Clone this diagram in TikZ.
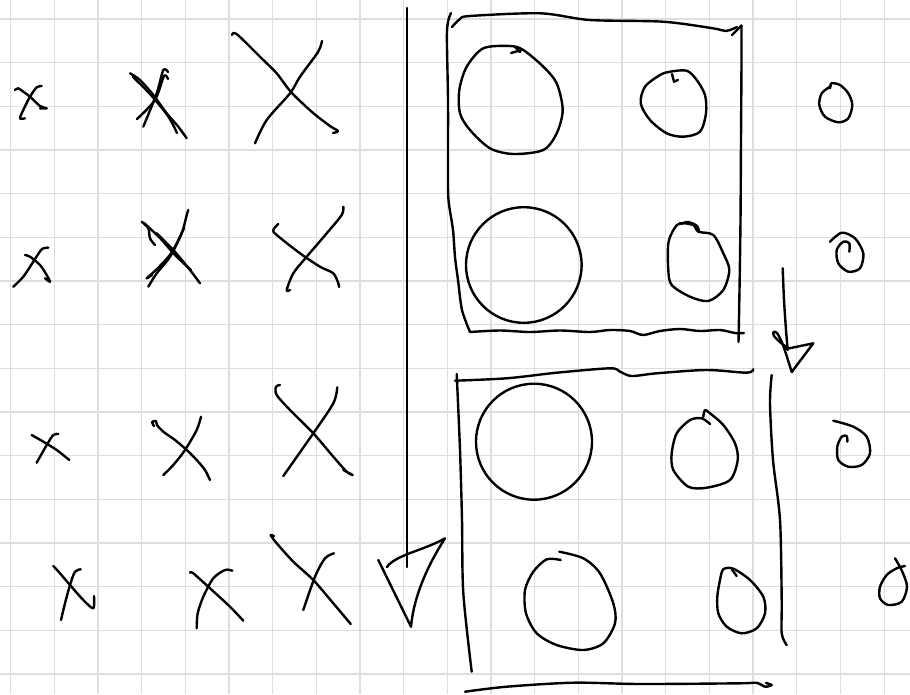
\documentclass[tikz,border=0pt]{standalone}
\definecolor{gridgray}{RGB}{222,222,222}
\begin{document}
\begin{tikzpicture}[x=1pt,y=-1pt,
  ink/.style={line width=2.4pt, line cap=round, line join=round, black},
  gridline/.style={line width=1.2pt, color=gridgray}]
\useasboundingbox (0,0) rectangle (910,694);
\fill[white] (0,0) rectangle (910,694);
\foreach \i in {0,...,20} \draw[gridline] ({10.7+43.67*\i},0) -- ({10.7+43.67*\i},694);
\foreach \j in {0,...,15} \draw[gridline] (0,{19+43.67*\j}) -- (910,{19+43.67*\j});

% ---- X marks, row 1
\draw[ink] plot[smooth] coordinates {(15,90) (18.3,88.3) (23.3,91.7) (30,96.7) (40,106) (46.7,108.3) (40,108.3)};
\draw[ink] plot[smooth] coordinates {(41.7,86) (36.7,87.3) (30,96.7) (23.3,110) (20,118.3) (25,118.3)};
\draw[ink] plot[smooth] coordinates {(130,73.3) (140,80) (153.3,95) (166.7,113.3) (178.3,126.7) (186.7,138.3)};
\draw[ink] plot[smooth] coordinates {(133,77) (150,94) (168,116) (177,133)};
\draw[ink] plot[smooth] coordinates {(168,72) (163.3,70) (156.7,93.3) (143.3,126.7)};
\draw[ink] plot[smooth] coordinates {(168,79) (164,76) (155,100) (137,119)};
\draw[ink] plot[smooth] coordinates {(232,35) (237,34.3) (263.3,60) (276.7,73.3) (291,92) (312,112) (330,126) (338,131) (333,133)};
\draw[ink] plot[smooth] coordinates {(322,41) (318,52) (300,76.7) (290,93.3) (266.7,120) (255,143.3)};

% ---- row 2
\draw[ink] plot[smooth] coordinates {(25,255) (30,256.7) (40,265) (46.7,275) (50,281.7) (45,278.3)};
\draw[ink] plot[smooth] coordinates {(48.3,247.7) (41.7,249.3) (33.3,261.7) (23.3,276.7) (13.3,286.7)};
\draw[ink] plot[smooth] coordinates {(141.7,221.7) (148.3,228.3) (150,238.3) (155,245)};
\draw[ink] plot[smooth] coordinates {(156.7,233.3) (173.3,250) (190,270) (200,283.3)};
\draw[ink] plot[smooth] coordinates {(144,223) (160,238) (175,255) (191,270)};
\draw[ink] plot[smooth] coordinates {(188.3,210) (186.7,215) (181.7,233.3) (170,256.7) (156.7,273.3) (148.3,286.7)};
\draw[ink] plot[smooth] coordinates {(184,228) (172,252) (158,268) (146.7,278.3) (152,275)};
\draw[ink] plot[smooth] coordinates {(278.3,224) (273.3,230) (276.7,235) (300,253.3) (320,266.7) (333.3,273.3) (338.3,283.3) (339,287)};
\draw[ink] plot[smooth] coordinates {(343.3,206.7) (341.7,215) (326.7,233.3) (306.7,256.7) (293.3,273.3) (286.7,290) (290,290)};

% ---- row 3
\draw[ink] plot[smooth] coordinates {(31.7,435) (43.3,441.7) (56.7,450) (69.3,460)};
\draw[ink] plot[smooth] coordinates {(58.3,434) (53.3,435) (46.7,445) (36.7,462.7)};
\draw[ink] plot[smooth] coordinates {(154,426) (152,422) (156,421) (157,425) (163.3,431.7) (175,440) (186.7,450) (196.7,460) (205,470) (210,480) (206.7,473.3)};
\draw[ink] plot[smooth] coordinates {(201,416.7) (196.7,430) (185,450) (173.3,465) (163.3,475)};
\draw[ink] plot[smooth] coordinates {(280,385) (276,386.7) (276.7,395) (290,410) (313.3,433.3) (333.3,456.7) (346.7,471.7) (352.7,475) (343.3,470)};
\draw[ink] plot[smooth] coordinates {(337.3,387.3) (333.3,403.3) (313.3,433.3) (283.3,476)};

% ---- row 4
\draw[ink] plot[smooth] coordinates {(53.3,566) (60,573.3) (70,585) (83.3,600) (93.3,608.3) (94,596)};
\draw[ink] plot[smooth] coordinates {(80.7,569.3) (75,571.7) (70,585) (65,603.3) (61,620)};
\draw[ink] plot[smooth] coordinates {(190,572.7) (193.3,573.3) (210,588.3) (230,606.7) (243.3,620.7)};
\draw[ink] plot[smooth] coordinates {(232.3,570.7) (225,570) (213.3,578.3) (203.3,596.7) (197.7,613.3) (196.7,628.3)};
\draw[ink] plot[smooth] coordinates {(274,536) (270.7,535) (271.7,536.7) (276.7,543.3) (293.3,561.7) (313.3,580) (333.3,603.3) (350.7,624)};
\draw[ink] plot[smooth] coordinates {(334,553.3) (325,558.3) (315,576.7) (303.3,610)};

% ---- divider with arrowhead
\draw[ink] (406.7,8) -- (406.7,567);
\draw[ink] (378.3,560) -- (411,626.7) .. controls (414,595) and (428,565) .. (445,538.3) .. controls (425,550) and (395,555) .. (387,567);

% ---- upper box
\draw[ink] plot[smooth] coordinates {(451,13) (447,31) (448,100) (448,170) (448.5,200) (453,230) (455,257) (458,280) (462,310) (470,332)};
\draw[ink] plot[smooth] coordinates {(452,27) (460,19) (470,16) (540,13.3) (590,20) (663,21.7) (713,28.3) (726,31) (737,27)};
\draw[ink] (732,35) -- (741.5,25.5);
\draw[ink] plot[smooth] coordinates {(741.5,25.5) (741.5,60) (741,140) (740.5,220) (739.5,290) (738.5,342)};
\draw[ink] plot[smooth] coordinates {(470,332) (500,330.5) (530,332) (560,330.5) (590,332) (610,330) (630,331) (643,335) (660,331) (680,329) (700,331) (720,330) (735,333) (744,333)};
\draw[ink] plot[smooth cycle] coordinates {(483.3,48.3) (510,46) (523.3,50) (543.3,66.7) (556.7,83.3) (562.7,110) (556.7,133.3) (543.3,150) (513.3,154) (490,148.3) (470,130) (460,113.3) (459.3,90) (466.7,66.7)};
\draw[ink] (511,53) -- (522,50);
\draw[ink] (515,47) -- (520,52);
\draw[ink] plot[smooth cycle] coordinates {(670,71.7) (686.7,70.7) (696.7,80) (705,95) (706,113.3) (700,131.7) (683.3,136.7) (666.7,133.3) (650,120) (640.7,103.3) (645,86.7) (660,75)};
\draw[ink] (672,74) -- (674,81.7) -- (678,80);
\draw[ink] (523.8,265) circle (57.8);
\draw[ink] plot[smooth cycle] coordinates {(680,223.3) (693.3,225) (698.3,231.7) (713.3,235) (723.3,253.3) (729.3,270) (723.3,290) (708.3,301) (690,296.7) (671.7,285) (668.3,270) (668.3,243.3) (674,229)};
\draw[ink] plot[smooth] coordinates {(681,224) (688,222) (697,226) (699,232)};

% ---- down arrow between boxes
\draw[ink] plot[smooth] coordinates {(782.7,268.3) (784,300) (786,330) (787.7,350)};
\draw[ink] plot[smooth] coordinates {(788,348) (781,343) (774,336) (773.5,332) (777,333) (783,345) (791.7,372)};
\draw[ink] (791.7,372) -- (813.3,343.3) -- (786,349);

% ---- lower box
\draw[ink] plot[smooth] coordinates {(455,380.7) (506.7,378.3) (556.7,372.7) (610,368.3) (620,371.7) (631.7,376) (656.7,373.3) (706.7,370) (746.7,372.7) (753.3,369.3)};
\draw[ink] plot[smooth] coordinates {(456.7,374) (460,450) (462,520) (463.3,593) (471.7,671.7)};
\draw[ink] plot[smooth] coordinates {(771.7,375) (770,403) (773,460) (780,520) (781.7,600) (781.7,633.3) (786.7,645)};
\draw[ink] plot[smooth] coordinates {(465,691.7) (506.7,686.7) (573.3,682.7) (640,684) (740,683.3) (756.7,682.7) (765,686.7) (771.7,685) (766,683)};
\draw[ink] (534,441.7) circle (58);
\draw[ink] plot[smooth] coordinates {(703.3,416.7) (705,410) (710,413.3) (723.3,425) (735,443.3) (737.7,460) (730,480) (706.7,487.7) (688.3,486.7) (673.3,470) (671.7,453.3) (676.7,433.3) (690,420) (701.7,418.3) (710,424)};
\draw[ink] plot[smooth] coordinates {(560.7,560) (546.7,559.3) (533.3,571.7) (525,590) (526,613.3) (536.7,633.3) (556.7,645) (583.3,650) (603.3,643.3) (615,623.3) (613.3,603.3) (600,573.3) (583.3,558.3) (559.3,551.7)};
\draw[ink] plot[smooth cycle] coordinates {(723.3,569.3) (733.3,568.7) (750,580) (763.3,596.7) (765,613.3) (756.7,628.3) (741.7,633.3) (726.7,626.7) (718.3,613.3) (717.3,596.7) (720,580)};
\draw[ink] (731.7,569.3) -- (736.7,576);

% ---- right column of small O's
\draw[ink] plot[smooth] coordinates {(830,88.3) (831.5,83.3) (840,85) (848.3,93.3) (852.3,105) (848.3,118.3) (838.3,122.3) (825,116.7) (819.3,105) (821.7,93.3) (831,86)};
\draw[ink] plot[smooth] coordinates {(830,241.7) (841.7,232.7) (855,238.3) (863.3,253.3) (860,268.3) (848.3,271.7) (838.3,263.3) (836.7,250) (843.3,241.7) (849.3,243.3) (849.3,251.7)};
\draw[ink] plot[smooth] coordinates {(833.3,420.7) (853.3,426.7) (866.7,436.7) (870,453.3) (861.7,465) (848.3,466.7) (838.3,460) (837.3,446.7) (841.7,436.7) (846.7,436) (847.3,441.7)};
\draw[ink] plot[smooth] coordinates {(895,558.3) (902,571) (907,586.7) (901.7,601.7) (888.3,605) (880,598.3) (880,586.7) (886.7,575) (896.7,568.3) (905,566)};
\end{tikzpicture}
\end{document}
